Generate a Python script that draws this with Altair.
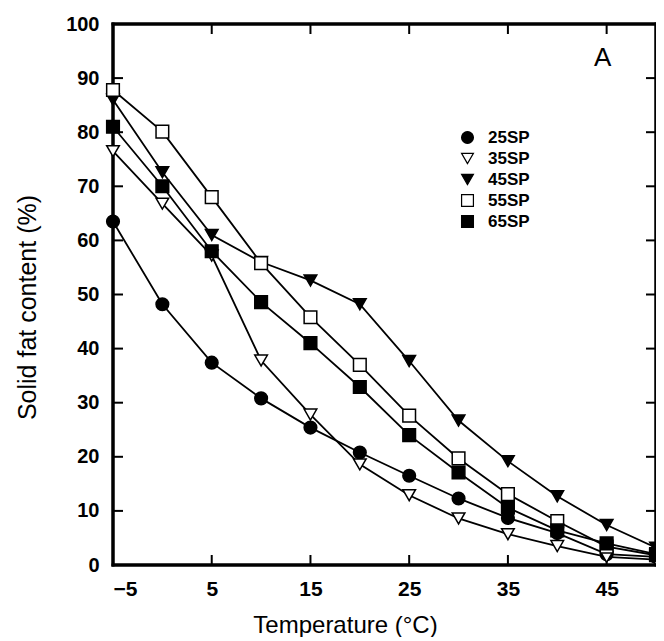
import altair as alt
import pandas as pd

temps = [-5, 0, 5, 10, 15, 20, 25, 30, 35, 40, 45, 50]
series_names = ["25SP", "35SP", "45SP", "55SP", "65SP"]
sp25 = [63.5, 48.2, 37.4, 30.8, 25.4, 20.8, 16.5, 12.3, 8.7, 5.9, 2.0, 1.5]
sp35 = [76.5, 66.8, 57.2, 37.8, 27.8, 18.6, 12.9, 8.6, 5.7, 3.5, 1.5, 1.0]
sp45 = [86.0, 72.6, 61.0, 56.0, 52.6, 48.2, 37.7, 26.7, 19.2, 12.7, 7.4, 3.2]
sp55 = [87.8, 80.1, 68.0, 55.8, 45.8, 37.0, 27.6, 19.7, 13.1, 8.1, 3.4, 1.8]
sp65 = [81.0, 70.0, 58.0, 48.6, 41.0, 32.9, 24.0, 17.1, 10.6, 6.4, 4.0, 2.0]
shapes = ["circle", "triangle-down", "triangle-down", "square", "square"]
fills = ["black", "white", "black", "white", "black"]

x_ticks = [-5, 5, 15, 25, 35, 45]
y_ticks = [0, 10, 20, 30, 40, 50, 60, 70, 80, 90, 100]
panel_label = ["A"]
panel_pos = [44.6, 93.7]

X_MIN, X_MAX, Y_MIN, Y_MAX = -5, 50, 0, 100
W, H = 543, 541
TICK_PX = 10

rows = []
for name, vals in zip(series_names, [sp25, sp35, sp45, sp55, sp65]):
    for t, v in zip(temps, vals):
        rows.append({"series": name, "temp": t, "sfc": v})
df = pd.DataFrame(rows)

# frame edges and inward ticks drawn as two-point line segments (data units)
ux = (X_MAX - X_MIN) / W
uy = (Y_MAX - Y_MIN) / H
segs = []
def add_seg(kind, x1, y1, x2, y2):
    sid = len(segs) // 2
    segs.append({"sid": sid, "kind": kind, "o": 0, "sx": x1, "sy": y1})
    segs.append({"sid": sid, "kind": kind, "o": 1, "sx": x2, "sy": y2})

add_seg("frame", X_MIN, Y_MIN, X_MIN, Y_MAX)
add_seg("frame", X_MAX, Y_MIN, X_MAX, Y_MAX)
add_seg("frame", X_MIN, Y_MIN, X_MAX, Y_MIN)
add_seg("frame", X_MIN, Y_MAX, X_MAX, Y_MAX)
for t in x_ticks[1:]:
    add_seg("tick", t, Y_MIN, t, Y_MIN + TICK_PX * uy)
    add_seg("tick", t, Y_MAX, t, Y_MAX - TICK_PX * uy)
for v in y_ticks[1:-1]:
    add_seg("tick", X_MIN, v, X_MIN + TICK_PX * ux, v)
    add_seg("tick", X_MAX, v, X_MAX - TICK_PX * ux, v)
seg_df = pd.DataFrame(segs)
frame_df = seg_df[seg_df["kind"] == "frame"]
tick_df = seg_df[seg_df["kind"] == "tick"]

xs = alt.Scale(domain=[X_MIN, X_MAX], nice=False, zero=False)
ys = alt.Scale(domain=[Y_MIN, Y_MAX], nice=False)

leg = alt.Legend(
    title=None, orient="none", legendX=346, legendY=105,
    labelFontSize=17, labelFontWeight="bold", labelFont="Liberation Sans",
    symbolSize=140, symbolStrokeWidth=1.2,
    rowPadding=3, labelOffset=12, padding=0,
)

base = alt.Chart(df)

lines = base.mark_line(color="black", strokeWidth=1.8).encode(
    x=alt.X("temp:Q", scale=xs,
            axis=alt.Axis(values=x_ticks, ticks=False, domain=False, grid=False,
                          labelFontSize=21, labelFontWeight="bold", labelPadding=13,
                          title="Temperature (°C)", titleFontSize=24, titleFontWeight="normal",
                          titleX=232, titleY=67, titleBaseline="alphabetic", titleAlign="center")),
    y=alt.Y("sfc:Q", scale=ys,
            axis=alt.Axis(values=y_ticks, ticks=False, domain=False, grid=False,
                          labelFontSize=20, labelFontWeight="bold", labelPadding=14,
                          title="Solid fat content (%)", titleFontSize=25, titleFontWeight="normal",
                          titleAngle=270, titleX=-86, titleY=283,
                          titleAlign="center", titleBaseline="middle")),
    detail="series:N",
)

points = base.mark_point(filled=True, size=160, strokeWidth=1.5, opacity=1).encode(
    x=alt.X("temp:Q", scale=xs),
    y=alt.Y("sfc:Q", scale=ys),
    shape=alt.Shape("series:N", scale=alt.Scale(domain=series_names, range=shapes), legend=leg),
    fill=alt.Fill("series:N", scale=alt.Scale(domain=series_names, range=fills), legend=leg),
    stroke=alt.Stroke("series:N", scale=alt.Scale(domain=series_names, range=["black"] * 5), legend=leg),
)

frame_lines = alt.Chart(frame_df).mark_line(color="black", strokeWidth=3, strokeCap="square").encode(
    x=alt.X("sx:Q", scale=xs), y=alt.Y("sy:Q", scale=ys),
    detail="sid:N", order="o:Q",
)
tick_lines = alt.Chart(tick_df).mark_line(color="black", strokeWidth=2).encode(
    x=alt.X("sx:Q", scale=xs), y=alt.Y("sy:Q", scale=ys),
    detail="sid:N", order="o:Q",
)

label_df = pd.DataFrame({"t": [panel_pos[0]], "v": [panel_pos[1]], "lab": panel_label})
panel = alt.Chart(label_df).mark_text(fontSize=26, font="Liberation Sans", color="black").encode(
    x=alt.X("t:Q", scale=xs), y=alt.Y("v:Q", scale=ys), text="lab:N")

chart = alt.layer(lines, frame_lines, tick_lines, points, panel).properties(
    width=W, height=H,
    autosize=alt.AutoSizeParams(type="none"),
    padding={"left": 105, "top": 16, "right": 0, "bottom": 72},
).configure(
    font="Liberation Sans", background="white"
).configure_view(
    stroke="black", strokeWidth=3
).configure_axis(
    labelColor="black", titleColor="black", labelFont="Liberation Sans", titleFont="Liberation Sans"
)

chart.save("out.html", embed_options={"renderer": "svg", "actions": False})
